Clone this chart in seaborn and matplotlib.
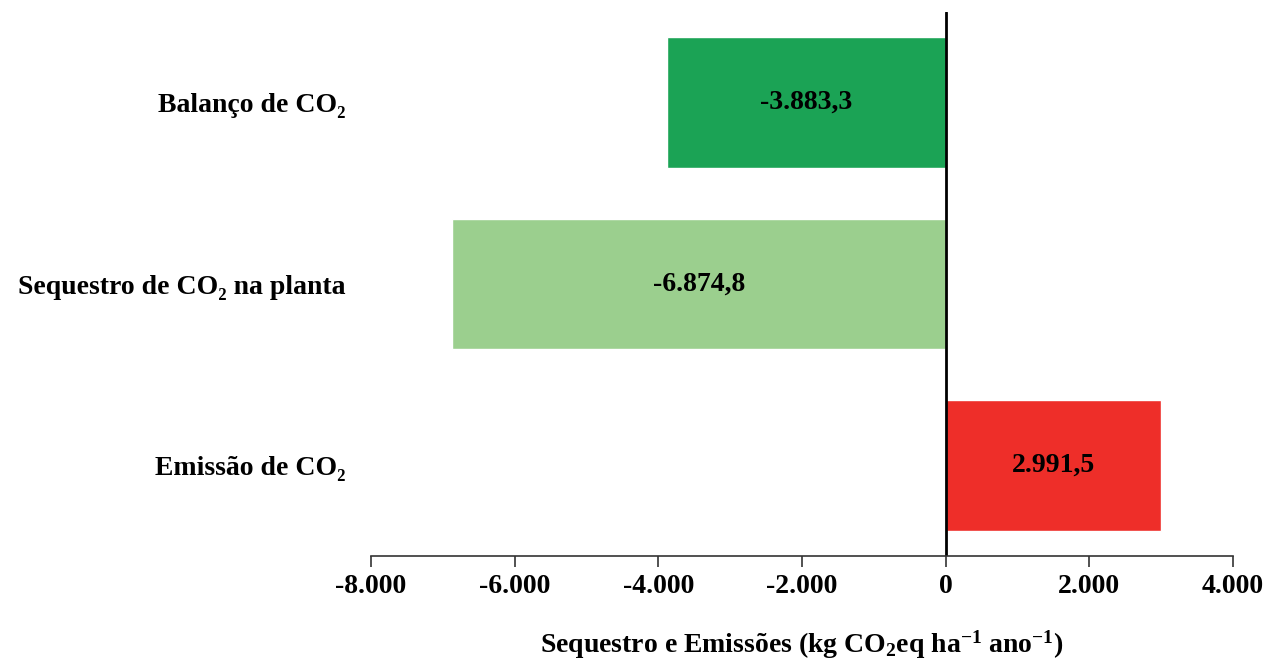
import matplotlib
matplotlib.use('Agg')
import matplotlib.pyplot as plt
import seaborn as sns
import pandas as pd
from matplotlib.ticker import FuncFormatter

categorias = ['Balanço de CO₂', 'Sequestro de CO₂ na planta', 'Emissão de CO₂']
valores = [-3883.3, -6874.8, 2991.5]
cores = ['#1BA355', '#9BCF8E', '#EE2E29']
ticks_x = [-8000, -6000, -4000, -2000, 0, 2000, 4000]

sns.set_style('white')
plt.rcParams['font.family'] = ['Liberation Serif', 'DejaVu Serif']
plt.rcParams['font.weight'] = 'bold'
plt.rcParams['text.color'] = 'black'
plt.rcParams['axes.labelcolor'] = 'black'
plt.rcParams['xtick.labelcolor'] = 'black'
plt.rcParams['ytick.labelcolor'] = 'black'
plt.rcParams['mathtext.fontset'] = 'custom'
plt.rcParams['mathtext.rm'] = 'Liberation Serif:bold'
plt.rcParams['mathtext.bf'] = 'Liberation Serif:bold'
plt.rcParams['mathtext.default'] = 'rm'


def br(v, casas=0):
    s = f'{v:,.{casas}f}'
    return s.replace(',', 'X').replace('.', ',').replace('X', '.')


datos = pd.DataFrame({'cat': categorias, 'val': valores})

fig = plt.figure(figsize=(12.66, 6.59), dpi=100)
ax = fig.add_axes([0.293, 0.156, 0.681, 0.826])

sns.barplot(data=datos, x='val', y='cat', hue='cat', palette=cores,
            orient='h', width=0.72, legend=False, ax=ax, saturation=1)

for p, v in zip(ax.patches, valores):
    cx = p.get_x() + p.get_width() / 2
    cy = p.get_y() + p.get_height() / 2
    ax.text(cx, cy, br(v, 1), ha='center', va='center',
            fontsize=20, fontweight='bold', color='black')

ax.axvline(0, color='black', linewidth=2)
ax.set_xlim(-8000, 4000)
ax.set_ylim(2.5, -0.5)
ax.set_xticks(ticks_x)
ax.xaxis.set_major_formatter(FuncFormatter(lambda v, pos: br(v)))

for s in ['top', 'right', 'left']:
    ax.spines[s].set_visible(False)
ax.spines['bottom'].set_color('#333333')
ax.spines['bottom'].set_linewidth(1.2)
ax.tick_params(axis='x', bottom=True, direction='out', length=8, width=1.2,
               color='#333333', labelsize=20, pad=5)
ax.tick_params(axis='y', left=False, length=0, labelsize=20, pad=18)
for t in ax.get_xticklabels() + ax.get_yticklabels():
    t.set_fontweight('bold')

ax.set_ylabel('')
ax.set_xlabel(r'Sequestro e Emissões (kg CO$_2$eq ha$^{-1}$ ano$^{-1}$)',
              fontsize=20, fontweight='bold', labelpad=21)

plt.savefig('out.png', dpi=100)
